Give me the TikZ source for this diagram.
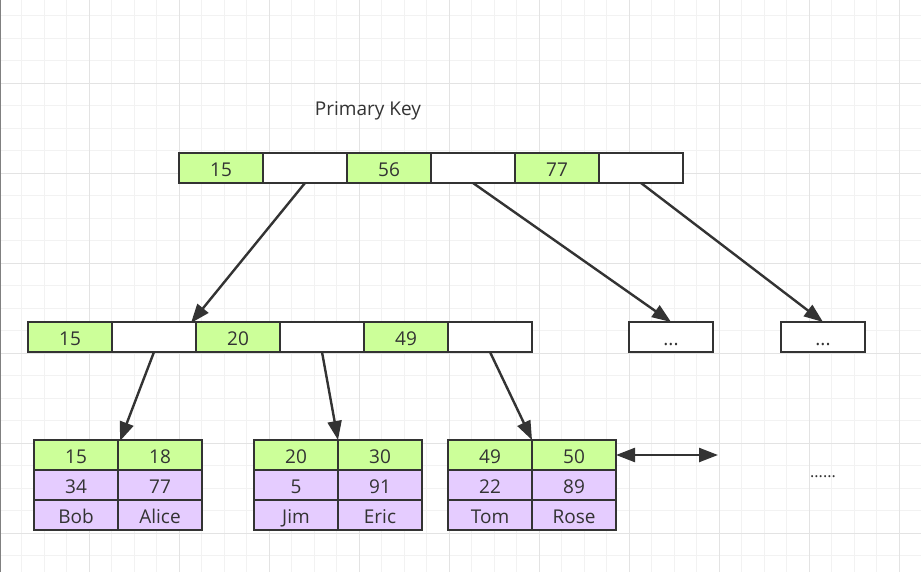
\documentclass[tikz,border=0pt]{standalone}
\usepackage{fontspec}
\setmainfont{Open Sans}
\usetikzlibrary{arrows.meta}
\definecolor{strokec}{HTML}{333333}
\definecolor{greenc}{HTML}{CCFF99}
\definecolor{purplec}{HTML}{E5CCFF}
\definecolor{gridminor}{HTML}{F2F2F2}
\definecolor{gridmajor}{HTML}{E3E3E3}
\tikzset{
  cell/.style={draw=strokec, line width=2.6pt, minimum width=84pt, minimum height=30pt,
    inner sep=0pt, outer sep=0pt, text=strokec, font=\fontsize{19}{19}\selectfont, anchor=center,
    text height=17.6pt, text depth=1.4pt},
  gcell/.style={cell, fill=greenc},
  pcell/.style={cell, fill=purplec},
  wcell/.style={cell, fill=white},
  arr/.style={draw=strokec, line width=2.4pt, -{Triangle[length=19pt,width=14pt]}},
  darr/.style={draw=strokec, line width=2.4pt, {Triangle[length=19pt,width=14pt]}-{Triangle[length=19pt,width=14pt]}},
  gmin/.style={draw=gridminor, line width=1pt},
  gmaj/.style={draw=gridmajor, line width=1pt},
}
\begin{document}
\begin{tikzpicture}[x=1pt,y=-1pt]
\useasboundingbox (0,0) rectangle (921,572);
\fill[white] (0,0) rectangle (921,572);
% grid
\foreach \i in {0,...,41} {\draw[gmin] ({-1+22.5*\i},0) -- ({-1+22.5*\i},572);}
\foreach \j in {0,...,26} {\draw[gmin] (0,{-6.7+22.5*\j}) -- (921,{-6.7+22.5*\j});}
\foreach \i in {0,...,10} {\draw[gmaj] ({-1+90*\i},0) -- ({-1+90*\i},572);}
\foreach \j in {0,...,7} {\draw[gmaj] (0,{-6.7+90*\j}) -- (921,{-6.7+90*\j});}
\draw[draw=gray, line width=1pt] (0.5,0) -- (0.5,572);

% title
\node[anchor=base, text=strokec, font=\fontsize{19}{19}\selectfont, inner sep=0pt] (title) at (368,116) {Primary Key};

% top row
\node[gcell] (t1) at (221,168) {15};
\node[wcell] (t2) at (305,168) {};
\node[gcell] (t3) at (389,168) {56};
\node[wcell] (t4) at (473,168) {};
\node[gcell] (t5) at (557,168) {77};
\node[wcell] (t6) at (641,168) {};

% middle row
\node[gcell] (m1) at (70,337) {15};
\node[wcell] (m2) at (154,337) {};
\node[gcell] (m3) at (238,337) {20};
\node[wcell] (m4) at (322,337) {};
\node[gcell] (m5) at (406,337) {49};
\node[wcell] (m6) at (490,337) {};

\node[wcell] (d1) at (671,337) {...};
\node[wcell] (d2) at (823,337) {...};

% leaf 1
\node[gcell] (a1) at (76,455) {15};
\node[gcell] (a2) at (160,455) {18};
\node[pcell] (a3) at (76,485) {34};
\node[pcell] (a4) at (160,485) {77};
\node[pcell] (a5) at (76,515) {Bob};
\node[pcell] (a6) at (160,515) {Alice};

% leaf 2
\node[gcell] (b1) at (296,455) {20};
\node[gcell] (b2) at (380,455) {30};
\node[pcell] (b3) at (296,485) {5};
\node[pcell] (b4) at (380,485) {91};
\node[pcell] (b5) at (296,515) {Jim};
\node[pcell] (b6) at (380,515) {Eric};

% leaf 3
\node[gcell] (c1) at (490,455) {49};
\node[gcell] (c2) at (574,455) {50};
\node[pcell] (c3) at (490,485) {22};
\node[pcell] (c4) at (574,485) {89};
\node[pcell] (c5) at (490,515) {Tom};
\node[pcell] (c6) at (574,515) {Rose};

\node[anchor=base, text=strokec, font=\fontsize{16}{16}\selectfont, inner sep=0pt] (more) at (823,477) {......};

% connectors
\draw[arr] (t2.south) -- ([xshift=-5pt,yshift=-1pt]m2.north east);
\draw[arr] (t4.south) -- (d1.north);
\draw[arr] (t6.south) -- (d2.north);
\draw[arr] (m2.south) -- ([xshift=2pt,yshift=-1pt]a1.north east);
\draw[arr] (m4.south) -- (b1.north east);
\draw[arr] (m6.south) -- (c1.north east);
\coordinate (next) at (718,455);
\draw[darr] (c2.east) -- (next);
\end{tikzpicture}
\end{document}
